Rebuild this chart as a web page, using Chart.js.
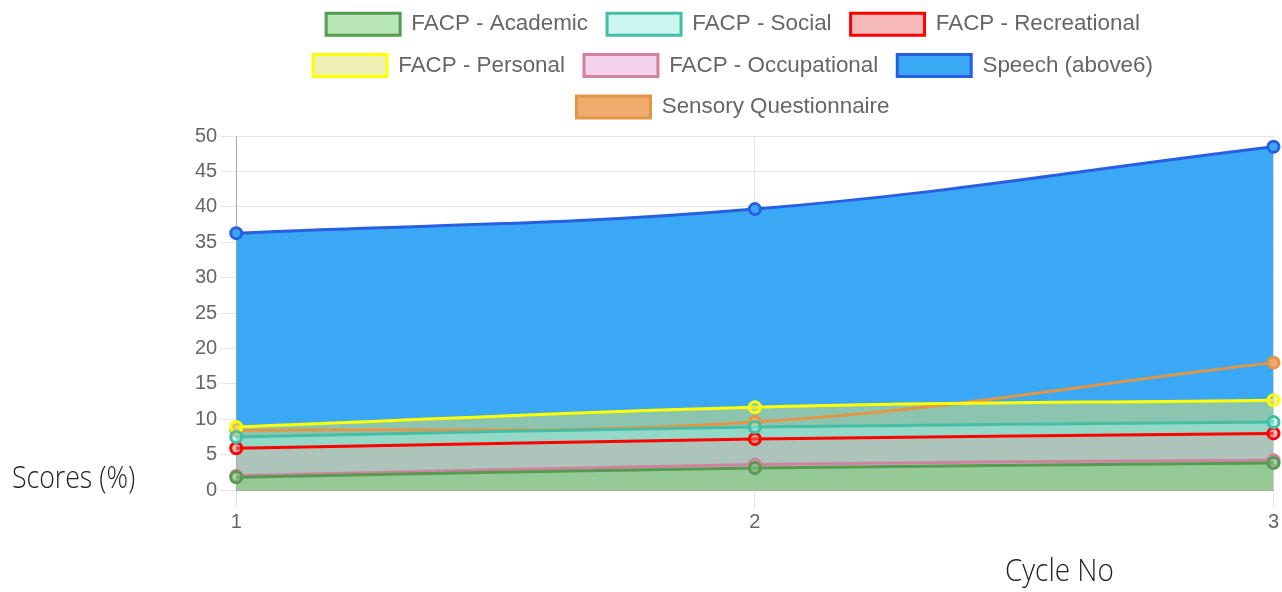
<!DOCTYPE html>
<html>
<head>
<meta charset="utf-8">
<script src="https://cdn.jsdelivr.net/npm/chart.js@4/dist/chart.umd.min.js"></script>
<style>
  html, body { margin: 0; padding: 0; background: #fff; }
  #wrap { position: relative; width: 1282px; height: 592px; overflow: hidden; }
  #chart { position: absolute; left: 0; top: 0; }
  .axis-title {
    position: absolute; font-family: "Open Sans", sans-serif; font-weight: 300;
    font-size: 31px; line-height: 31px; color: #222; white-space: nowrap;
    transform-origin: left top;
  }
  #ytitle { left: 12px; top: 461px; transform: scaleX(0.86); }
  #xtitle { left: 1005px; top: 554px; transform: scaleX(0.9); }
</style>
</head>
<body>
<div id="wrap">
  <canvas id="chart" width="1282" height="592"></canvas>
  <div class="axis-title" id="ytitle">Scores (%)</div>
  <div class="axis-title" id="xtitle">Cycle No</div>
</div>
<script>
// ## data ####################################################################
const cycles       = ['1', '2', '3'];
const academic     = [1.8, 3.1, 3.8];
const social       = [7.5, 8.9, 9.6];
const recreational = [5.9, 7.2, 8.0];
const personal     = [8.9, 11.7, 12.7];
const occupational = [2.0, 3.6, 4.2];
const speech       = [36.3, 39.7, 48.5];
const sensory      = [8.4, 9.6, 18.0];
const yTicks       = [0, 5, 10, 15, 20, 25, 30, 35, 40, 45, 50];

// ## helpers #################################################################
/** one filled line series, same look for all */
function series(label, data, line, fill) {
  return {
    label, data,
    borderColor: line,
    backgroundColor: fill,
    pointBackgroundColor: fill,
    pointBorderColor: line,
    borderWidth: 3,
    pointRadius: 5.5,
    pointBorderWidth: 3,
    tension: 0.4,
    fill: 'origin'
  };
}

const datasets = [
  series('FACP - Academic',      academic,     'rgb(85,155,80)',   'rgba(115,205,115,0.5)'),
  series('FACP - Social',        social,       'rgb(70,190,165)',  'rgba(155,235,225,0.5)'),
  series('FACP - Recreational',  recreational, 'rgb(255,0,0)',     'rgba(235,115,115,0.5)'),
  series('FACP - Personal',      personal,     'rgb(255,255,0)',   'rgba(221,225,105,0.5)'),
  series('FACP - Occupational',  occupational, 'rgb(210,130,160)', 'rgba(231,165,215,0.5)'),
  series('Speech (above6)',      speech,       'rgb(40,95,225)',   'rgb(58,168,245)'),
  series('Sensory Questionnaire',sensory,      'rgb(225,150,70)',  'rgb(240,170,110)')
];

// extra room between legend and plot, legend itself stays put
const legendGap = {
  id: 'legendGap',
  beforeInit(chart) {
    const fit = chart.legend.fit;
    chart.legend.fit = function () { fit.call(this); this.height += 8; };
  }
};

const tickFont = { family: '"Liberation Sans", Arial, sans-serif', size: 20 };

// ## chart ###################################################################
new Chart(document.getElementById('chart').getContext('2d'), {
  type: 'line',
  data: { labels: cycles, datasets },
  plugins: [legendGap],
  options: {
    responsive: false,
    animation: false,
    layout: { padding: { left: 192, right: 8, top: -6, bottom: 56 } },
    plugins: {
      filler: { drawTime: 'beforeDatasetsDraw' },
      tooltip: { enabled: false },
      legend: {
        position: 'top',
        labels: {
          color: '#666',
          font: { family: '"Liberation Sans", Arial, sans-serif', size: 22.4 },
          boxWidth: 74,
          boxHeight: 22,
          padding: 19
        }
      }
    },
    scales: {
      x: {
        offset: false,
        grid: { color: 'rgba(0,0,0,0.1)', tickLength: 18 },
        border: { color: 'rgba(0,0,0,0.25)' },
        ticks: { color: '#666', font: tickFont, padding: 2 }
      },
      y: {
        min: 0, max: 50,
        afterBuildTicks: axis => { axis.ticks = yTicks.map(v => ({ value: v })); },
        grid: { color: 'rgba(0,0,0,0.1)', tickLength: 16 },
        border: { color: 'rgba(0,0,0,0.25)' },
        ticks: { color: '#666', font: tickFont, padding: 3 }
      }
    }
  }
});
</script>
</body>
</html>
